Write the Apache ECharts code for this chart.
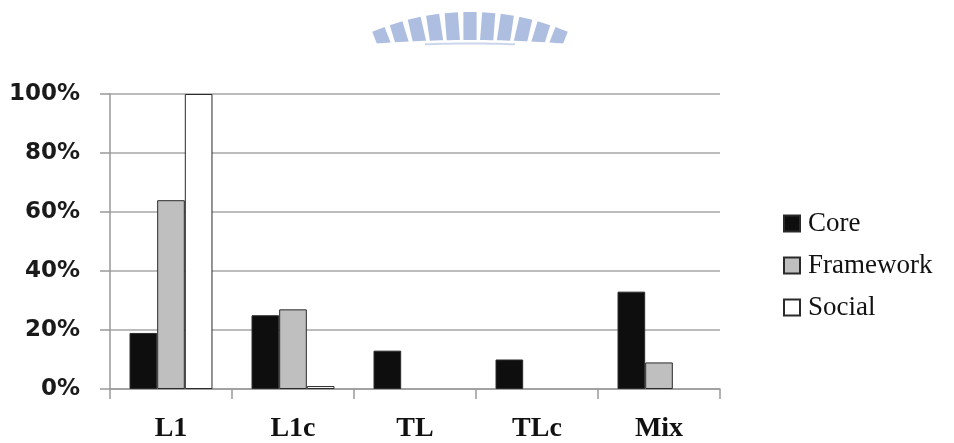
<!DOCTYPE html>
<html>
<head>
<meta charset="utf-8">
<script src="https://cdn.jsdelivr.net/npm/echarts@6/dist/echarts.min.js"></script>
<style>
  html, body { margin: 0; padding: 0; background: #fff; }
  #chart { width: 954px; height: 443px; }
</style>
</head>
<body>
<div id="chart"></div>
<script>
// Share of each component type per configuration (percent)
const categories = ['L1', 'L1c', 'TL', 'TLc', 'Mix'];
const coreValues = [19, 25, 13, 10, 33];
const frameworkValues = [64, 27, 0, 0, 9];
const socialValues = [100, 1, 0, 0, 0];
const yTicks = [0, 20, 40, 60, 80, 100];

// Decorative striped arc emblem above the plot
function emblem() {
  const cx = 470, cy = 262, rOut = 250, rIn = 215, halfW = 6.6;
  const step = 4.3 * Math.PI / 180;
  const parts = [];
  for (let i = -5; i <= 5; i++) {
    const a = i * step;
    const ux = Math.sin(a), uy = -Math.cos(a);   // radial direction
    const px = Math.cos(a), py = Math.sin(a);    // perpendicular
    const pts = [
      [cx + ux * rIn - px * halfW, cy + uy * rIn - py * halfW],
      [cx + ux * rOut - px * halfW, cy + uy * rOut - py * halfW],
      [cx + ux * rOut + px * halfW, cy + uy * rOut + py * halfW],
      [cx + ux * rIn + px * halfW, cy + uy * rIn + py * halfW]
    ];
    parts.push({ type: 'polygon', shape: { points: pts }, style: { fill: '#adbee0' }, z: 1, silent: true });
  }
  // gently curved lower edge of the stripes: white mask below a shallow curve
  const R = 1250, mask = [];
  for (let x = 340; x <= 600; x += 5) {
    const dx = x - cx;
    mask.push([x, 40 + R - Math.sqrt(R * R - dx * dx)]);
  }
  mask.push([600, 76], [340, 76]);
  parts.push({ type: 'polygon', shape: { points: mask }, style: { fill: '#ffffff' }, z: 2, silent: true });
  // faint arc line under the stripes
  const band = [];
  for (let x = 425; x <= 515; x += 5) {
    const dx = x - cx;
    band.push([x, 43.5 + R - Math.sqrt(R * R - dx * dx)]);
  }
  parts.push({ type: 'polyline', shape: { points: band }, style: { stroke: '#cbd5ec', lineWidth: 2 }, z: 3, silent: true });
  parts.push({ type: 'rect', shape: { x: 340, y: 46, width: 260, height: 28 }, style: { fill: '#ffffff' }, z: 4, silent: true });
  return parts;
}

// zero-height bars are not drawn with an outline
const toBarData = (arr) => arr.map(v => v === 0 ? { value: v, itemStyle: { borderWidth: 0 } } : v);

const chart = echarts.init(document.getElementById('chart'));
const barStyle = (fill) => ({ color: fill, borderColor: '#2a2a2a', borderWidth: 1 });

chart.setOption({
  animation: false,
  backgroundColor: '#ffffff',
  graphic: emblem(),
  grid: { left: 110, right: 234, top: 94, bottom: 53 },
  legend: {
    orient: 'vertical',
    left: 778,
    top: 205,
    itemWidth: 16,
    itemHeight: 16,
    itemGap: 15,
    icon: 'rect',
    textStyle: { fontFamily: 'Liberation Serif', fontSize: 27, color: '#111', padding: [0, 0, 0, 3] },
    data: ['Core', 'Framework', 'Social']
  },
  xAxis: {
    type: 'category',
    data: categories,
    axisLine: { lineStyle: { color: '#999', width: 1.5 } },
    axisTick: { show: true, length: 10, lineStyle: { color: '#999', width: 1.5 } },
    axisLabel: { margin: 26, fontFamily: 'Liberation Serif', fontWeight: 'bold', fontSize: 28, color: '#111' }
  },
  yAxis: {
    type: 'value',
    min: yTicks[0],
    max: yTicks[yTicks.length - 1],
    interval: yTicks[1] - yTicks[0],
    axisLine: { show: true, lineStyle: { color: '#999', width: 1.5 } },
    axisTick: { show: true, length: 10, lineStyle: { color: '#999', width: 1.5 } },
    splitLine: { lineStyle: { color: '#a6a6a6', width: 1.5 } },
    axisLabel: {
      margin: 30,
      formatter: '{value}%',
      fontFamily: 'DejaVu Sans',
      fontWeight: 'bold',
      fontSize: 23,
      color: '#1a1a1a'
    }
  },
  series: [
    { name: 'Core', type: 'bar', data: toBarData(coreValues), barGap: '0%', barCategoryGap: '32%', itemStyle: barStyle('#0e0e0e') },
    { name: 'Framework', type: 'bar', data: toBarData(frameworkValues), itemStyle: barStyle('#bfbfbf') },
    { name: 'Social', type: 'bar', data: toBarData(socialValues), itemStyle: barStyle('#ffffff') }
  ]
});
</script>
</body>
</html>
